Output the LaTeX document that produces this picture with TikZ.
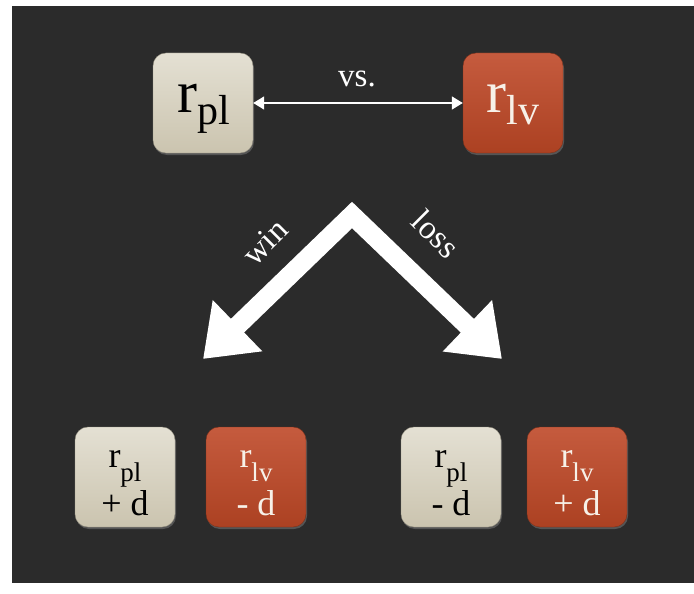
\documentclass[tikz,border=0pt]{standalone}
\usepackage{fontspec}
\setmainfont{Liberation Serif}
\usetikzlibrary{arrows.meta,shadows}

\definecolor{board}{HTML}{2B2B2B}
\definecolor{sandtop}{HTML}{E4E0D3}
\definecolor{sandbot}{HTML}{CBC4AF}
\definecolor{rusttop}{HTML}{C55B3E}
\definecolor{rustbot}{HTML}{AC4122}
\definecolor{cream}{HTML}{F7F1E8}

\newcommand{\ratingbig}{\fontsize{60}{64}\selectfont}
\newcommand{\subbig}{\fontsize{42}{46}\selectfont}
\newcommand{\ratingsmall}{\fontsize{36}{40}\selectfont}
\newcommand{\subsmall}{\fontsize{27}{30}\selectfont}
\newcommand{\wordsize}{\fontsize{33}{36}\selectfont}

\tikzset{
  card/.style={rounded corners=13pt, minimum size=100pt, inner sep=0pt,
    drop shadow={opacity=0.5, shadow xshift=1pt, shadow yshift=-2pt}},
  plcard/.style={card, draw=sandbot!75!black, top color=sandtop, bottom color=sandbot},
  lvcard/.style={card, draw=rustbot!75!black, top color=rusttop, bottom color=rustbot},
  wordtxt/.style={text=white, font=\wordsize, inner sep=0pt},
  vsarrow/.style={draw=white, line width=1.6pt,
    {Triangle[width=13pt,length=11pt]}-{Triangle[width=13pt,length=11pt]}},
  bigarrow/.style={draw=white, line width=19pt, line join=miter,
    {Triangle[width=68pt,length=48pt]}-{Triangle[width=68pt,length=48pt]}}
}

\begin{document}
\begin{tikzpicture}[x=1pt,y=-1pt]
    % Page and board
    \fill[white] (0,0) rectangle (694,594);
    \useasboundingbox (0,0) rectangle (694,594);
    \fill[board] (12,6) rectangle (694,583);

    % Ratings before the game
    \node[plcard] (pl) at (203,103) {};
    \node[lvcard] (lv) at (513,103) {};
    \node[anchor=base, font=\ratingbig, inner sep=0pt] (pltxt) at (204,113)
        {r\raisebox{-12pt}{\subbig pl}};
    \node[anchor=base, font=\ratingbig, text=cream, inner sep=0pt] (lvtxt) at (513,113)
        {r\raisebox{-12pt}{\subbig lv}};
    \draw[vsarrow] (pl) -- (lv);
    \node[wordtxt, anchor=base] (vs) at (357,87) {vs.};

    % Outcome arrows
    \coordinate (apex) at (352,215);
    \coordinate (wintip) at (203,359);
    \coordinate (losstip) at (502,359);
    \draw[bigarrow] (wintip) -- (apex) -- (losstip);
    \node[wordtxt, rotate=45] (win) at (265,242) {win};
    \node[wordtxt, rotate=-45] (loss) at (436,234) {loss};

    % Ratings after the game
    \foreach \x/\card/\who/\op/\tc/\n in {125/plcard/pl/+/black/a,
                                          256/lvcard/lv/-/cream/b,
                                          451/plcard/pl/-/black/c,
                                          577/lvcard/lv/+/cream/d}{
        \node[\card] (box\n) at (\x,477) {};
        \node[anchor=base, font=\ratingsmall, text=\tc, inner sep=0pt] (top\n) at (\x,467)
            {r\raisebox{-14pt}{\subsmall \who}};
        \node[anchor=base, font=\ratingsmall, text=\tc, inner sep=0pt] (bot\n) at (\x,515)
            {\op\ d};
    }
\end{tikzpicture}
\end{document}
